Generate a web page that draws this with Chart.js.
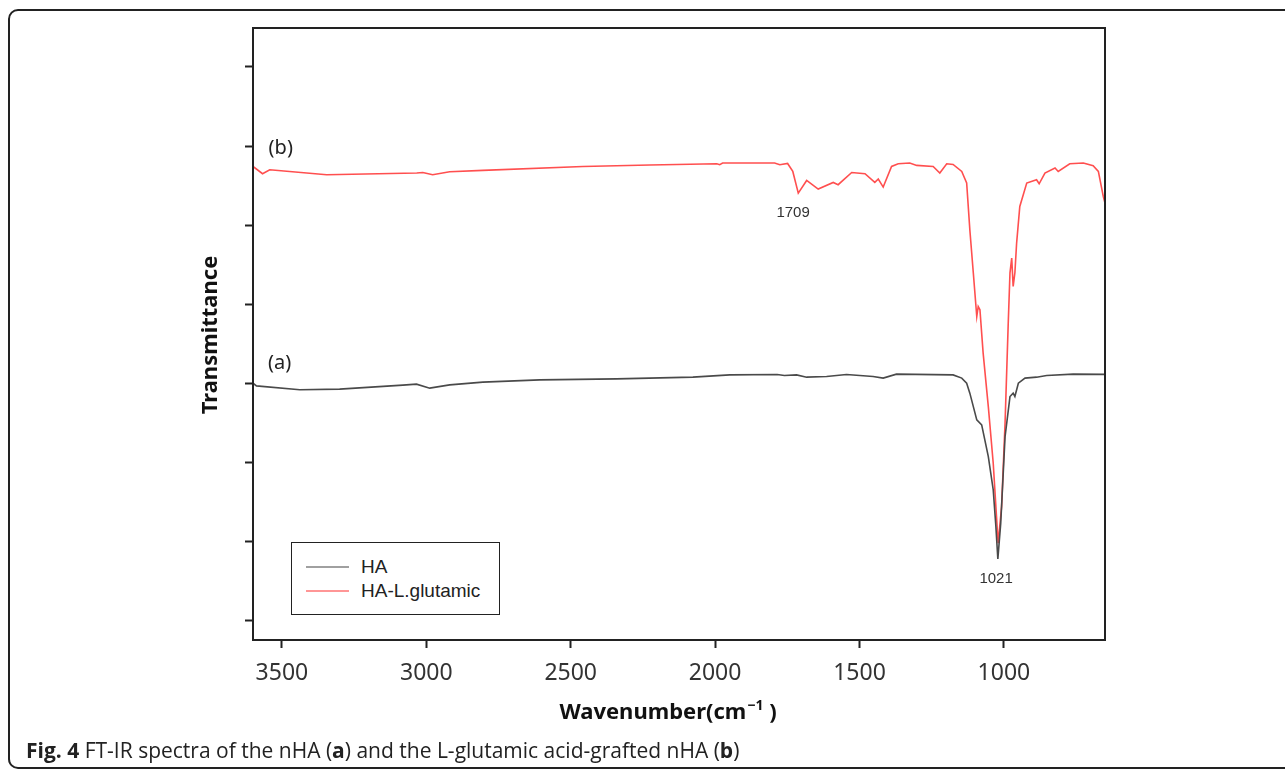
<!DOCTYPE html>
<html>
<head>
<meta charset="utf-8">
<script src="https://cdn.jsdelivr.net/npm/chart.js@4.4.1/dist/chart.umd.min.js"></script>
<style>
  html, body { margin:0; padding:0; background:#fff; }
  body { width:1285px; height:772px; position:relative; overflow:hidden; }
  #frame { position:absolute; left:8px; top:9px; width:1300px; height:760px; border:2px solid #222; border-radius:10px; box-sizing:border-box; }
  #wrap { position:absolute; left:0; top:0; width:1285px; height:772px; }
  #legend { position:absolute; left:291px; top:542px; width:209px; height:73px; border:1.5px solid #222; box-sizing:border-box; background:#fff;
            font-family:"Liberation Sans", Arial, sans-serif; font-size:19px; color:#222; }
  .row { position:absolute; left:0; height:24px; }
  .sw { position:absolute; left:14px; width:43px; height:2px; }
  .lt { position:absolute; left:69px; white-space:nowrap; line-height:24px; }
  #caption { position:absolute; left:26px; top:736px; font-family:"Open Sans", sans-serif; font-size:21px; color:#222; white-space:nowrap; line-height:normal; }
</style>
</head>
<body>
<div id="frame"></div>
<div id="wrap"><canvas id="c" width="1285" height="772"></canvas></div>
<div id="legend">
  <div class="row" style="top:12px"><div class="sw" style="top:11px;background:#a0a0a0"></div><div class="lt" id="l0"></div></div>
  <div class="row" style="top:36px"><div class="sw" style="top:11px;background:#ff9696"></div><div class="lt" id="l1"></div></div>
</div>
<div id="caption"><b>Fig. 4</b> FT-IR spectra of the nHA (<b>a</b>) and the L-glutamic acid-grafted nHA (<b>b</b>)</div>
<script>
// ---- data ----
const seriesNames = ['HA', 'HA-L.glutamic'];
const xTicks = [3500, 3000, 2500, 2000, 1500, 1000];
const yTicks = [0, 1, 2, 3, 4, 5, 6, 7];

const wnHA = [3600, 3588, 3438, 3300, 3081, 3034, 2988, 2919, 2804, 2607, 2341, 2077, 1949, 1785, 1760, 1718, 1683, 1614, 1545, 1453, 1418, 1372, 1176, 1146, 1129, 1118, 1094, 1077, 1054, 1037, 1028, 1021, 1011, 996, 979, 968, 962, 950, 927, 887, 852, 760, 650];
const trHA = [3.001, 2.967, 2.917, 2.926, 2.976, 2.989, 2.938, 2.980, 3.014, 3.043, 3.056, 3.077, 3.106, 3.110, 3.098, 3.106, 3.077, 3.085, 3.110, 3.085, 3.065, 3.115, 3.106, 3.065, 3.001, 2.875, 2.537, 2.474, 2.073, 1.651, 1.20, 0.778, 1.230, 2.326, 2.832, 2.875, 2.832, 3.001, 3.065, 3.077, 3.098, 3.115, 3.113];

const wnGlu = [3600, 3567, 3542, 3345, 3033, 3012, 2978, 2919, 2804, 2458, 2226, 1994, 1984, 1974, 1794, 1776, 1749, 1731, 1712, 1683, 1643, 1591, 1574, 1527, 1481, 1447, 1435, 1418, 1389, 1366, 1326, 1302, 1245, 1222, 1198, 1176, 1146, 1129, 1118, 1106, 1094, 1089, 1083, 1072, 1054, 1037, 1020, 1008, 996, 985, 979, 973, 968, 962, 956, 945, 921, 887, 878, 858, 823, 812, 772, 725, 691, 673, 656, 650];
const trGlu = [5.742, 5.650, 5.700, 5.637, 5.659, 5.666, 5.637, 5.675, 5.692, 5.742, 5.760, 5.776, 5.764, 5.785, 5.785, 5.764, 5.780, 5.679, 5.405, 5.565, 5.456, 5.540, 5.511, 5.666, 5.650, 5.540, 5.583, 5.481, 5.742, 5.776, 5.785, 5.755, 5.742, 5.659, 5.776, 5.767, 5.679, 5.532, 4.941, 4.397, 3.844, 3.971, 3.929, 3.385, 2.705, 1.989, 0.977, 1.440, 2.499, 3.764, 4.397, 4.583, 4.224, 4.397, 4.773, 5.236, 5.532, 5.574, 5.523, 5.659, 5.722, 5.679, 5.776, 5.785, 5.751, 5.679, 5.363, 5.28];

const annotations = [
  { text: '(b)',  x: 3504, y: 5.966, font: '20px "Noto Sans"', color: '#222' },
  { text: '(a)',  x: 3508, y: 3.258, font: '20px "Noto Sans"', color: '#222' },
  { text: '1709', x: 1730, y: 5.152, font: '15px "Liberation Sans"', color: '#333' },
  { text: '1021', x: 1027, y: 0.525, font: '15px "Liberation Sans"', color: '#333' }
];

document.getElementById('l0').textContent = seriesNames[0];
document.getElementById('l1').textContent = seriesNames[1];

const toPts = (xs, ys) => xs.map((x, i) => ({ x: x, y: ys[i] }));

const boxAndText = {
  id: 'boxAndText',
  afterDraw(chart) {
    const { ctx, chartArea: a, scales } = chart;
    ctx.save();
    ctx.strokeStyle = '#222';
    ctx.lineWidth = 2;
    ctx.strokeRect(a.left, a.top, a.right - a.left, a.bottom - a.top);
    ctx.textAlign = 'center';
    ctx.textBaseline = 'middle';
    annotations.forEach(an => {
      ctx.font = an.font;
      ctx.fillStyle = an.color;
      ctx.fillText(an.text, scales.x.getPixelForValue(an.x), scales.y.getPixelForValue(an.y));
    });
    // y title
    ctx.fillStyle = '#111';
    ctx.font = 'bold 22px "Noto Sans"';
    ctx.save();
    ctx.translate(211, (a.top + a.bottom) / 2 + 1);
    ctx.rotate(-Math.PI / 2);
    ctx.fillText('Transmittance', 0, 0);
    ctx.restore();
    // x title with superscript
    const p1 = 'Wavenumber(cm', sup = '\u22121', p2 = ' )';
    ctx.font = 'bold 22px "Noto Sans"';
    const w1 = ctx.measureText(p1).width, w3 = ctx.measureText(p2).width;
    ctx.font = 'bold 14px "Noto Sans"';
    const w2 = ctx.measureText(sup).width;
    let x0 = 667.5 - (w1 + w2 + w3) / 2;
    const ty = 713;
    ctx.textAlign = 'left';
    ctx.font = 'bold 22px "Noto Sans"';
    ctx.fillText(p1, x0, ty);
    ctx.font = 'bold 14px "Noto Sans"';
    ctx.fillText(sup, x0 + w1 + 1, ty - 7);
    ctx.font = 'bold 22px "Noto Sans"';
    ctx.fillText(p2, x0 + w1 + w2 + 1, ty);
    ctx.restore();
  }
};

new Chart(document.getElementById('c'), {
  type: 'line',
  data: {
    datasets: [
      { label: seriesNames[0], data: toPts(wnHA, trHA), borderColor: '#4a4a4a', borderWidth: 1.6, pointRadius: 0, tension: 0, order: 1 },
      { label: seriesNames[1], data: toPts(wnGlu, trGlu), borderColor: '#ff4f4f', borderWidth: 1.6, pointRadius: 0, tension: 0, order: 2 }
    ]
  },
  plugins: [boxAndText],
  options: {
    responsive: false,
    animation: false,
    events: [],
    layout: { padding: { left: 0, top: 28, right: 180, bottom: 0 } },
    plugins: { legend: { display: false }, tooltip: { enabled: false } },
    scales: {
      x: {
        type: 'linear', reverse: true, min: 650, max: 3600,
        afterBuildTicks: s => { s.ticks = xTicks.map(v => ({ value: v })); },
        afterFit: s => { s.height = 132; },
        grid: { drawOnChartArea: false, drawTicks: true, tickLength: 8, tickColor: '#222', tickWidth: 2 },
        border: { display: false },
        ticks: { padding: 12, color: '#333', font: { family: '"Noto Sans"', size: 23 }, maxRotation: 0, autoSkip: false,
                 callback: v => String(v) }
      },
      y: {
        type: 'linear', min: -0.247, max: 7.493,
        afterBuildTicks: s => { s.ticks = yTicks.map(v => ({ value: v })); },
        afterFit: s => { s.width = 253; },
        grid: { drawOnChartArea: false, drawTicks: true, tickLength: 8, tickColor: '#222', tickWidth: 2 },
        border: { display: false },
        ticks: { display: false }
      }
    }
  }
});
</script>
</body>
</html>
